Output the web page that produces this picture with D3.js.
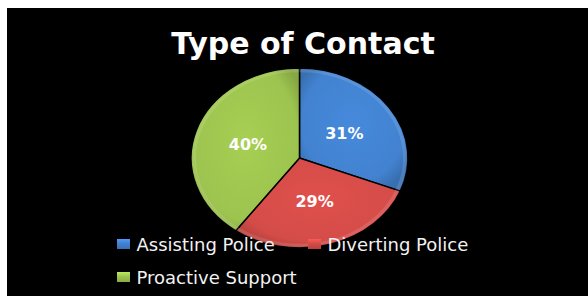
<!DOCTYPE html>
<html>
<head>
<meta charset="utf-8">
<script src="https://cdn.jsdelivr.net/npm/d3@7"></script>
<style>
  body { margin: 0; background: #fff; }
  svg { display: block; }
</style>
</head>
<body>
<div id="chart"></div>
<script>
// chart data
var categories = ["Assisting Police", "Diverting Police", "Proactive Support"];
var shares = [31, 29, 40];
var sliceColors = ["#4282d0", "#d44c48", "#9dc44f"];
var titleText = "Type of Contact";

var width = 588, height = 297;
var cx = 299.5, cy = 158, rx = 108.5, ry = 90;
var squash = ry / rx;

var svg = d3.select("#chart").append("svg")
    .attr("width", width)
    .attr("height", height);

// black plot area, white strip on left and top
svg.append("rect")
    .attr("x", 7).attr("y", 8)
    .attr("width", width - 7).attr("height", 288)
    .attr("fill", "#000");

var defs = svg.append("defs");

// bevel-ish gradients, one per slice
sliceColors.forEach(function(c, i) {
    var g = defs.append("radialGradient")
        .attr("id", "grad" + i)
        .attr("cx", "50%").attr("cy", "45%").attr("r", "60%");
    g.append("stop").attr("offset", "0%").attr("stop-color", d3.color(c).brighter(0.15));
    g.append("stop").attr("offset", "80%").attr("stop-color", c);
    g.append("stop").attr("offset", "100%").attr("stop-color", d3.color(c).darker(0.45));

    var lg = defs.append("linearGradient")
        .attr("id", "leg" + i)
        .attr("x1", 0).attr("y1", 0).attr("x2", 0).attr("y2", 1);
    lg.append("stop").attr("offset", "0%").attr("stop-color", d3.color(c).brighter(0.5));
    lg.append("stop").attr("offset", "45%").attr("stop-color", c);
    lg.append("stop").attr("offset", "100%").attr("stop-color", d3.color(c).darker(0.4));
});

// title
svg.append("text")
    .attr("x", 303)
    .attr("y", 54)
    .attr("text-anchor", "middle")
    .attr("fill", "#fff")
    .style("font-family", "'DejaVu Sans', Verdana, sans-serif")
    .style("font-weight", "bold")
    .style("font-size", "30px")
    .text(titleText);

var pie = d3.pie().sort(null).value(function(d) { return d; });
var arcs = pie(shares);

var arc = d3.arc().innerRadius(0).outerRadius(rx);
var labelArc = d3.arc().innerRadius(rx * 0.5).outerRadius(rx * 0.5);

var pieG = svg.append("g")
    .attr("transform", "translate(" + cx + "," + cy + ") scale(1," + squash + ")");

pieG.selectAll("path.slice")
    .data(arcs)
    .enter()
    .append("path")
    .attr("class", "slice")
    .attr("d", arc)
    .attr("fill", function(d, i) { return "url(#grad" + i + ")"; })
    .attr("stroke", "#000")
    .attr("stroke-width", 1.5)
    .attr("vector-effect", "non-scaling-stroke");

// soft highlight on rim
pieG.selectAll("path.rim")
    .data(arcs)
    .enter()
    .append("path")
    .attr("class", "rim")
    .attr("d", d3.arc().innerRadius(rx - 5).outerRadius(rx - 1.5))
    .attr("fill", "#fff")
    .attr("opacity", 0.12);

// percentage labels
svg.selectAll("text.pct")
    .data(arcs)
    .enter()
    .append("text")
    .attr("class", "pct")
    .attr("x", function(d) { return cx + labelArc.centroid(d)[0]; })
    .attr("y", function(d) { return cy + labelArc.centroid(d)[1] * squash + 6; })
    .attr("text-anchor", "middle")
    .attr("fill", "#fff")
    .style("font-family", "'DejaVu Sans', Verdana, sans-serif")
    .style("font-weight", "bold")
    .style("font-size", "16px")
    .text(function(d) { return d.data + "%"; });

// legend
var legendPos = [[117, 251], [308, 251], [117, 284]];

var leg = svg.selectAll("g.legend")
    .data(categories)
    .enter()
    .append("g")
    .attr("class", "legend")
    .attr("transform", function(d, i) { return "translate(" + legendPos[i][0] + "," + legendPos[i][1] + ")"; });

leg.append("rect")
    .attr("x", 0).attr("y", -12)
    .attr("width", 13).attr("height", 10)
    .attr("fill", function(d, i) { return "url(#leg" + i + ")"; });

leg.append("text")
    .attr("x", 19.5)
    .attr("y", 0)
    .attr("fill", "#f2f2f2")
    .style("font-family", "'DejaVu Sans', sans-serif")
    .style("font-size", "18px")
    .text(function(d) { return d; });
</script>
</body>
</html>
